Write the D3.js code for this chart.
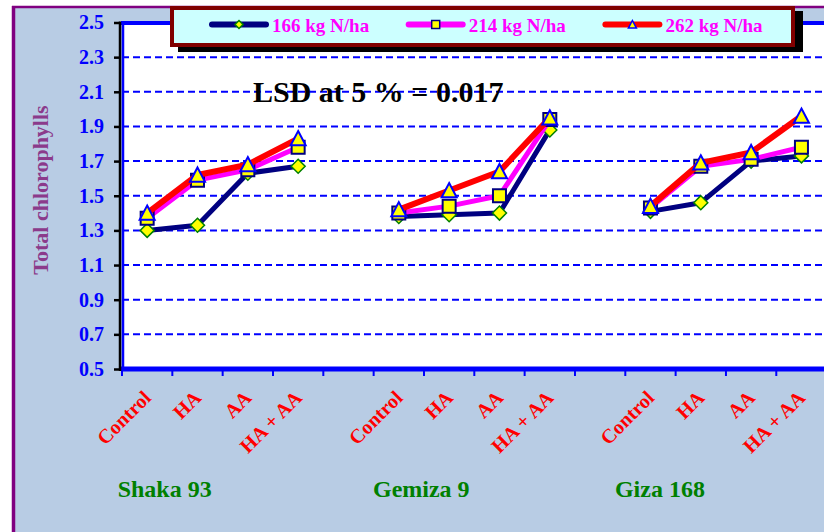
<!DOCTYPE html>
<html><head><meta charset="utf-8">
<script src="https://cdn.jsdelivr.net/npm/d3@7"></script>
<style>
html,body{margin:0;padding:0;background:#fff;}
svg{display:block;font-family:"Liberation Serif","Times New Roman",serif;}
</style>
</head><body>
<svg id="c" width="824" height="532"></svg>
<script>
// ---- data ----
const groups = ["Shaka 93", "Gemiza 9", "Giza 168"];
const treatments = ["Control", "HA", "AA", "HA + AA"];
const seriesNames = ["166 kg N/ha", "214 kg N/ha", "262 kg N/ha"];
const n166 = [1.30, 1.33, 1.63, 1.67, 1.38, 1.39, 1.40, 1.88, 1.41, 1.46, 1.70, 1.73];
const n214 = [1.37, 1.59, 1.65, 1.78, 1.40, 1.44, 1.50, 1.94, 1.43, 1.67, 1.71, 1.78];
const n262 = [1.40, 1.62, 1.68, 1.83, 1.42, 1.53, 1.64, 1.95, 1.44, 1.69, 1.75, 1.96];
const yTickValues = [0.5, 0.7, 0.9, 1.1, 1.3, 1.5, 1.7, 1.9, 2.1, 2.3, 2.5];
const yTitle = "Total chlorophylls";
const lsdText = "LSD at 5 % = 0.017";

// ---- layout / style ----
const W = 824, H = 532;
const svg = d3.select("#c");
const seriesData = [n166, n214, n262];
const lineColors = ["#000080", "#FF00FF", "#FF0000"];
const lineWidths = [5, 5, 6];
const groupLabelDx = [-58, -53, -66];

// slots: 4 treatments per group + one empty slot after each group
const slots = [];
groups.forEach((g, gi) => {
  treatments.forEach(t => slots.push(g + "|" + t));
  slots.push("gap" + gi);
});
const bandW = 50.33;
const x = d3.scaleBand().domain(slots).range([122, 122 + slots.length * bandW]).padding(0);
const xc = k => x(k) + x.bandwidth() / 2;
const y = d3.scaleLinear().domain([0.5, 2.5]).range([369, 22.5]);

// ---- background frame ----
svg.append("rect").attr("x", 0).attr("y", 0).attr("width", W).attr("height", H).attr("fill", "#fff");
svg.append("rect").attr("x", 13).attr("y", 7).attr("width", W).attr("height", H).attr("fill", "#B8CCE4");
svg.append("line").attr("x1", 12).attr("x2", W).attr("y1", 7).attr("y2", 7).attr("stroke", "#800080").attr("stroke-width", 2.5);
svg.append("line").attr("x1", 13.5).attr("x2", 13.5).attr("y1", 6).attr("y2", H).attr("stroke", "#800080").attr("stroke-width", 3.5);

// plot area
const x0 = x.range()[0], x1 = x.range()[1];
svg.append("rect").attr("x", x0).attr("y", y(2.5)).attr("width", x1 - x0).attr("height", y(0.5) - y(2.5)).attr("fill", "#fff");

// gridlines
svg.append("g").selectAll("line").data(yTickValues.filter(v => v > 0.5 && v < 2.5)).join("line")
  .attr("x1", x0).attr("x2", x1).attr("y1", d => y(d)).attr("y2", d => y(d))
  .attr("stroke", "#0000FF").attr("stroke-width", 2).attr("stroke-dasharray", "7,4");

// plot border (blue)
svg.append("line").attr("x1", x0 - 1).attr("x2", x1).attr("y1", y(2.5) + 0.5).attr("y2", y(2.5) + 0.5).attr("stroke", "#0000FF").attr("stroke-width", 4);
svg.append("line").attr("x1", x0 - 1).attr("x2", x1).attr("y1", y(0.5)).attr("y2", y(0.5)).attr("stroke", "#0000FF").attr("stroke-width", 5);
svg.append("line").attr("x1", x0 + 1).attr("x2", x0 + 1).attr("y1", y(2.5)).attr("y2", y(0.5)).attr("stroke", "#0000FF").attr("stroke-width", 2.5);

// x-axis ticks at band boundaries
svg.append("g").selectAll("line").data(slots).join("line")
  .attr("x1", d => x(d)).attr("x2", d => x(d)).attr("y1", y(0.5) + 2).attr("y2", y(0.5) + 7)
  .attr("stroke", "#0000FF").attr("stroke-width", 2);

// y axis
const yAxis = d3.axisLeft(y).tickValues(yTickValues).tickFormat(d3.format(".1f")).tickSize(6).tickPadding(10);
const ya = svg.append("g").attr("transform", `translate(${x0 - 2},0)`).call(yAxis);
ya.select(".domain").attr("stroke", "#000").attr("stroke-width", 2.5).attr("d", `M0,${y(2.5) - 1}V${y(0.5) + 2}`);
ya.selectAll(".tick line").attr("stroke", "#000").attr("stroke-width", 2.5);
ya.selectAll(".tick text").attr("fill", "#0000FF").attr("font-size", 20).attr("font-weight", "bold")
  .attr("font-family", "Liberation Serif, serif");

// y title
svg.append("text").attr("transform", "translate(48,190) rotate(-90)").attr("text-anchor", "middle")
  .attr("fill", "#8B3A8B").attr("font-size", 22).attr("font-weight", "bold").text(yTitle);

// x labels
const xLabels = [];
groups.forEach(g => treatments.forEach(t => xLabels.push({ key: g + "|" + t, t })));
svg.append("g").selectAll("text").data(xLabels).join("text")
  .attr("transform", d => `translate(${xc(d.key) + 5},399) rotate(-45)`)
  .attr("text-anchor", "end").attr("fill", "#FF0000").attr("font-size", 20).attr("font-weight", "bold")
  .text(d => d.t);

// group labels
svg.append("g").selectAll("text").data(groups).join("text")
  .attr("x", (g, i) => (xc(g + "|" + treatments[1]) + xc(g + "|" + treatments[2])) / 2 + groupLabelDx[i])
  .attr("y", 497).attr("text-anchor", "middle").attr("fill", "#008000").attr("font-size", 24)
  .attr("font-weight", "bold").text(d => d);

// markers
function markerPath(type, s) {
  if (type === 0) return `M0,${-s}L${s},0L0,${s}L${-s},0Z`;
  if (type === 1) return `M${-s},${-s}H${s}V${s}H${-s}Z`;
  return `M0,${-s}L${s},${s * 0.9}L${-s},${s * 0.9}Z`;
}
const markerStroke = ["#008000", "#000080", "#0000FF"];
const markerStrokeW = [1.5, 2, 2];
const markerSize = [7, 6.5, 7.5];

// series lines and markers
seriesData.forEach((vals, si) => {
  const g = svg.append("g");
  const line = d3.line().x(d => xc(d.key)).y(d => y(d.v));
  groups.forEach((grp, gi) => {
    const pts = treatments.map((t, ti) => ({ key: grp + "|" + t, v: vals[gi * 4 + ti] }));
    g.append("path").attr("d", line(pts)).attr("fill", "none").attr("stroke", lineColors[si])
      .attr("stroke-width", lineWidths[si]).attr("stroke-linejoin", "round");
  });
  const pts = [];
  groups.forEach((grp, gi) => treatments.forEach((t, ti) => pts.push({ key: grp + "|" + t, v: vals[gi * 4 + ti] })));
  g.selectAll("path.m").data(pts).join("path").attr("class", "m")
    .attr("transform", d => `translate(${xc(d.key)},${y(d.v)})`)
    .attr("d", markerPath(si, markerSize[si]))
    .attr("fill", "#FFFF00").attr("stroke", markerStroke[si]).attr("stroke-width", markerStrokeW[si]);
});

// LSD text
svg.append("text").attr("x", 253).attr("y", 102).attr("fill", "#000").attr("font-size", 30)
  .attr("font-weight", "bold").text(lsdText);

// legend
const lg = svg.append("g");
lg.append("rect").attr("x", 178).attr("y", 11).attr("width", 625).attr("height", 41).attr("fill", "#000");
lg.append("rect").attr("x", 172).attr("y", 8).attr("width", 621).attr("height", 37)
  .attr("fill", "#CCFFFF").attr("stroke", "#800000").attr("stroke-width", 4);
seriesNames.forEach((name, si) => {
  const lx = 212 + si * 196.7;
  lg.append("line").attr("x1", lx).attr("x2", lx + 54).attr("y1", 24.5).attr("y2", 24.5)
    .attr("stroke", lineColors[si]).attr("stroke-width", 6).attr("stroke-linecap", "round");
  lg.append("path").attr("transform", `translate(${lx + 27},24.5)`).attr("d", markerPath(si, 4))
    .attr("fill", "#FFFF00").attr("stroke", markerStroke[si]).attr("stroke-width", 1.5);
  lg.append("text").attr("x", lx + 60).attr("y", 32).attr("fill", "#FF00FF").attr("font-size", 19)
    .attr("font-weight", "bold").text(name);
});
</script>
</body></html>
